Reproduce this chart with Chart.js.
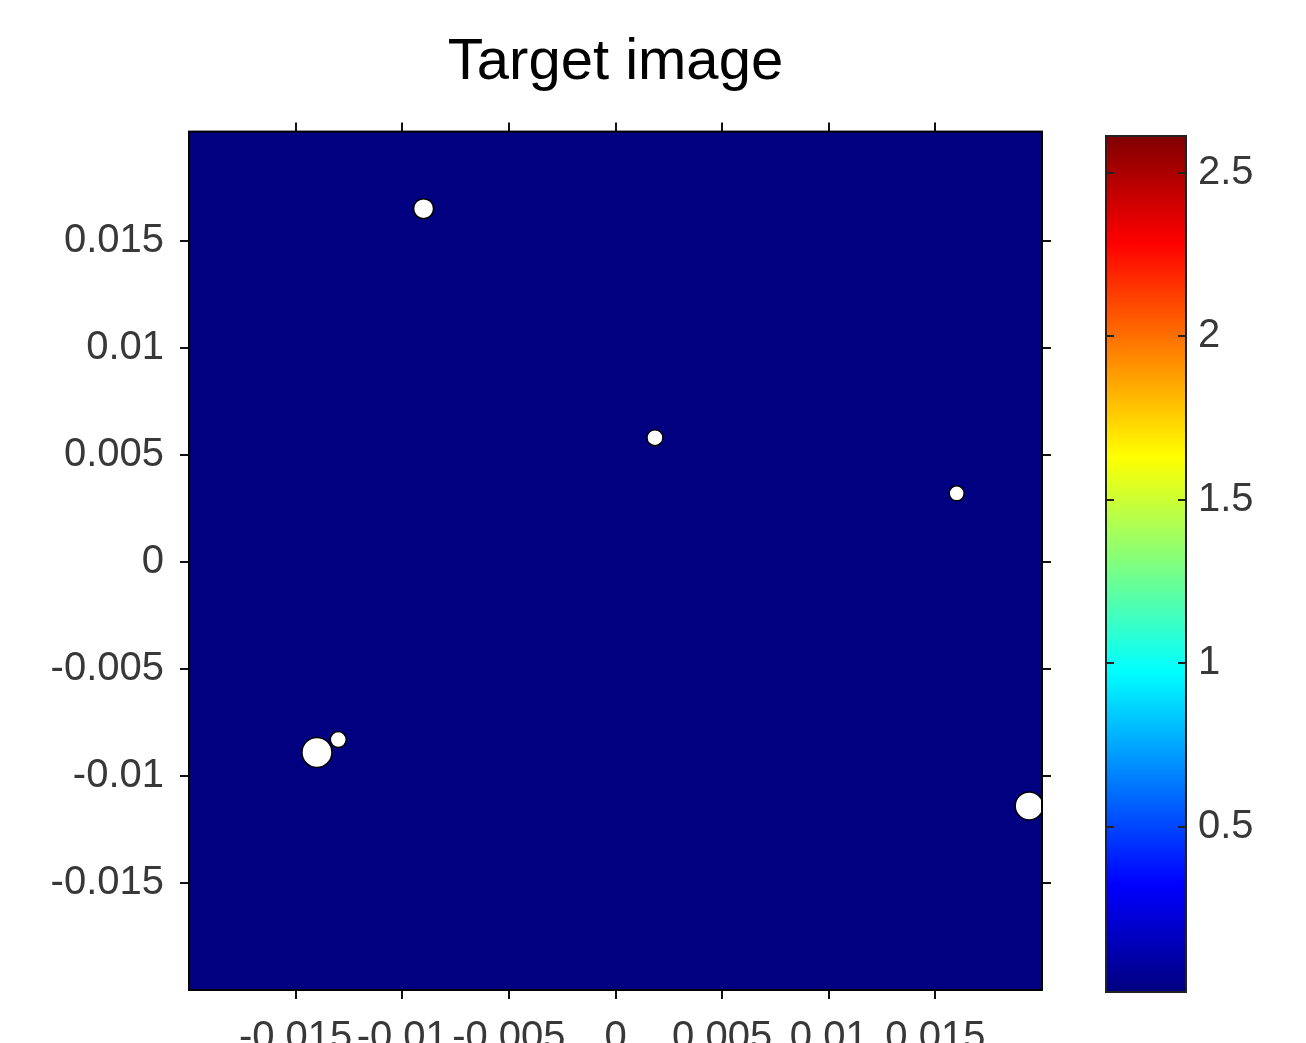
<!DOCTYPE html>
<html>
<head>
<meta charset="utf-8">
<script src="https://cdn.jsdelivr.net/npm/chart.js@4"></script>
<style>
  html, body { margin: 0; padding: 0; background: #fff; }
  body { width: 1306px; height: 1043px; position: relative; overflow: hidden; }
  #mainWrap { position: absolute; left: 0; top: 0; width: 1212px; height: 1043px; }
  #cbWrap { position: absolute; left: 1090px; top: 0; width: 216px; height: 1043px; z-index: 2; }
</style>
</head>
<body>
<div id="mainWrap"><canvas id="targetChart"></canvas></div>
<div id="cbWrap"><canvas id="colorbar"></canvas></div>
<script>
// target positions (x, y)
const targetX = [-0.009, 0.00185, 0.016, -0.014, -0.013, 0.0194];
const targetY = [0.0165, 0.0058, 0.0032, -0.0089, -0.0083, -0.0114];

// axis ticks
const xTicks = [-0.015, -0.01, -0.005, 0, 0.005, 0.01, 0.015];
const yTicks = [-0.015, -0.01, -0.005, 0, 0.005, 0.01, 0.015];
const cbTicks = [0.5, 1, 1.5, 2, 2.5];

const FONT = "'Liberation Sans', Arial, sans-serif";
const LABEL_COLOR = '#383838';

// jet colormap stops
const jetStops = [
    [0, '#000080'], [0.125, '#0000ff'], [0.375, '#00ffff'],
    [0.625, '#ffff00'], [0.875, '#ff0000'], [1, '#800000']
];

// dark-blue image background + frame with outward ticks on all sides
const imageFrame = {
    id: 'imageFrame',
    beforeDatasetsDraw(chart) {
        const { ctx, chartArea: a } = chart;
        ctx.save();
        ctx.fillStyle = '#000080';
        ctx.fillRect(a.left, a.top, a.right - a.left, a.bottom - a.top);
        ctx.restore();
    },
    afterDatasetsDraw(chart) {
        const { ctx, chartArea: a, scales } = chart;
        const len = 9;
        ctx.save();
        ctx.strokeStyle = '#111';
        ctx.lineWidth = 2;
        ctx.beginPath();
        scales.x.ticks.forEach(t => {
            const px = Math.round(scales.x.getPixelForValue(t.value));
            ctx.moveTo(px, a.bottom); ctx.lineTo(px, a.bottom + len);
            ctx.moveTo(px, a.top); ctx.lineTo(px, a.top - len);
        });
        scales.y.ticks.forEach(t => {
            const py = Math.round(scales.y.getPixelForValue(t.value));
            ctx.moveTo(a.left, py); ctx.lineTo(a.left - len, py);
            ctx.moveTo(a.right, py); ctx.lineTo(a.right + len, py);
        });
        ctx.stroke();
        ctx.strokeStyle = '#000';
        ctx.strokeRect(a.left, a.top, a.right - a.left, a.bottom - a.top);
        ctx.restore();
    }
};

new Chart(document.getElementById('targetChart').getContext('2d'), {
    type: 'scatter',
    data: {
        datasets: [{
            data: targetX.map((x, i) => ({ x: x, y: targetY[i] })),
            backgroundColor: '#ffffff',
            borderColor: '#000000',
            borderWidth: 1.5,
            pointRadius: [10, 8, 7.5, 15, 8, 14]
        }]
    },
    options: {
        responsive: true,
        maintainAspectRatio: false,
        animation: false,
        layout: { padding: { left: 0, right: 170, top: 0, bottom: 0 } },
        plugins: {
            legend: { display: false },
            tooltip: { enabled: false },
            title: {
                display: true,
                fullSize: false,
                text: 'Target image',
                color: '#000',
                font: { family: FONT, size: 58, weight: 'normal' },
                padding: { top: 28, bottom: 34 }
            }
        },
        scales: {
            x: {
                type: 'linear',
                min: -0.02,
                max: 0.02,
                grid: { display: false },
                border: { display: false },
                afterBuildTicks: s => { s.ticks = xTicks.map(v => ({ value: v })); },
                afterFit: s => { s.height = 53; },
                ticks: {
                    autoSkip: false,
                    maxRotation: 0,
                    padding: 16,
                    color: LABEL_COLOR,
                    font: { family: FONT, size: 40 },
                    callback: v => String(v)
                }
            },
            y: {
                type: 'linear',
                min: -0.02,
                max: 0.0201,
                grid: { display: false },
                border: { display: false },
                afterBuildTicks: s => { s.ticks = yTicks.map(v => ({ value: v })); },
                afterFit: s => { s.width = 189; },
                ticks: {
                    autoSkip: false,
                    padding: 17,
                    color: LABEL_COLOR,
                    font: { family: FONT, size: 40 },
                    callback: v => String(v)
                }
            }
        }
    },
    plugins: [imageFrame]
});

// colorbar: jet gradient filling the chart area, ticks inward on both edges
const colorbarFill = {
    id: 'colorbarFill',
    beforeDatasetsDraw(chart) {
        const { ctx, chartArea: a, scales } = chart;
        const g = ctx.createLinearGradient(0, a.bottom, 0, a.top);
        jetStops.forEach(s => g.addColorStop(s[0], s[1]));
        ctx.save();
        ctx.fillStyle = g;
        ctx.fillRect(a.left, a.top, a.right - a.left, a.bottom - a.top);
        ctx.strokeStyle = '#222';
        ctx.lineWidth = 2;
        ctx.beginPath();
        scales.y.ticks.forEach(t => {
            const py = Math.round(scales.y.getPixelForValue(t.value));
            ctx.moveTo(a.left, py); ctx.lineTo(a.left + 8, py);
            ctx.moveTo(a.right, py); ctx.lineTo(a.right - 8, py);
        });
        ctx.stroke();
        ctx.strokeRect(a.left, a.top, a.right - a.left, a.bottom - a.top);
        ctx.restore();
    }
};

new Chart(document.getElementById('colorbar').getContext('2d'), {
    type: 'scatter',
    data: { datasets: [{ data: [] }] },
    options: {
        responsive: true,
        maintainAspectRatio: false,
        animation: false,
        layout: { padding: { left: 16, right: 0, top: 136, bottom: 51 } },
        plugins: { legend: { display: false }, tooltip: { enabled: false } },
        scales: {
            x: { display: false, min: 0, max: 1 },
            y: {
                type: 'linear',
                position: 'right',
                min: -0.005,
                max: 2.613,
                grid: { display: false },
                border: { display: false },
                afterBuildTicks: s => { s.ticks = cbTicks.map(v => ({ value: v })); },
                afterFit: s => { s.width = 120; },
                ticks: {
                    padding: 4,
                    color: LABEL_COLOR,
                    font: { family: FONT, size: 40 },
                    callback: v => String(v)
                }
            }
        }
    },
    plugins: [colorbarFill]
});
</script>
</body>
</html>
